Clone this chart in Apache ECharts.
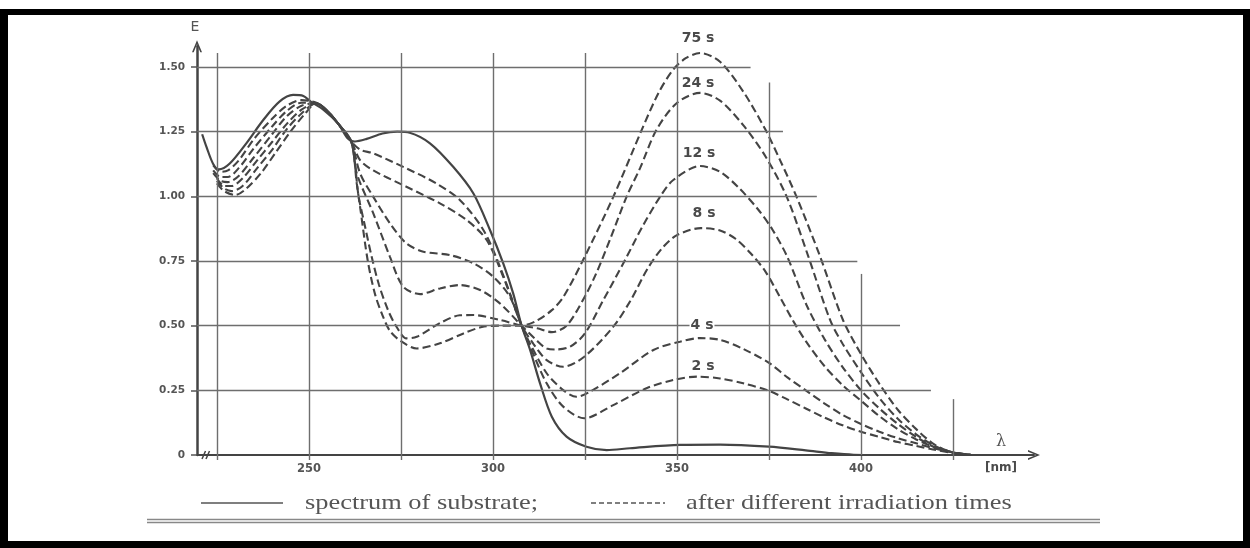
<!DOCTYPE html>
<html><head><meta charset="utf-8">
<script src="https://cdn.jsdelivr.net/npm/echarts@6/dist/echarts.min.js"></script>
<style>html,body{margin:0;padding:0;background:#fff}#c{width:1250px;height:548px}</style>
</head><body><div id="c"></div>
<script>
// ---- data ----
const xTicks = [225, 250, 275, 300, 325, 350, 375, 400, 425];
const xLabels = [250, 300, 350, 400];
const yTicks = [0, 0.25, 0.5, 0.75, 1.0, 1.25, 1.5];
const hGridLevels = [0.25, 0.5, 0.75, 1.0, 1.25, 1.5];
const hGridEnds = [419, 410.6, 399, 388, 378.8, 370];
const vGridTops = [1.554, 1.554, 1.554, 1.554, 1.554, 1.554, 1.44, 0.70, 0.216];
const timeLabels = ['2 s', '4 s', '8 s', '12 s', '24 s', '75 s'];

const substrate = [[221,1.24],[222.2,1.19],[224,1.125],[225.5,1.104],[228.5,1.127],[233,1.205],[237.6,1.295],[242,1.366],[245.7,1.392],[248.5,1.388],[250.5,1.366],[254,1.334],[258,1.28],[260.5,1.225],[262.5,1.212],[265.7,1.222],[270,1.243],[274,1.25],[277.4,1.246],[282.9,1.205],[289.2,1.114],[294.7,1.011],[299.2,0.87],[302.8,0.741],[305.5,0.625],[307.8,0.5],[310.1,0.406],[312.8,0.277],[316,0.148],[320,0.071],[325.4,0.032],[330.9,0.019],[337.2,0.026],[350.8,0.039],[361.7,0.04],[375,0.032],[385,0.018],[392,0.007],[398,0.001],[405,0]];

const s2 = [[224,1.12],[226,1.095],[228,1.10],[231,1.14],[235,1.22],[240,1.30],[244,1.35],[248,1.372],[252,1.362],[255,1.33],[258,1.28],[261.5,1.212],[264,1.18],[267.5,1.166],[276.5,1.108],[284.6,1.05],[291,0.986],[297.4,0.87],[301.9,0.728],[307.8,0.5],[310.1,0.419],[314.6,0.277],[319.1,0.187],[324.8,0.142],[332.7,0.193],[341.7,0.258],[349,0.29],[355.4,0.303],[361.7,0.296],[368,0.277],[375,0.248],[380,0.215],[385,0.18],[390,0.145],[395,0.115],[400,0.09],[405,0.07],[410,0.05],[415,0.035],[420,0.02],[425,0.008],[430,0]];

const s4 = [[224,1.10],[226,1.075],[228,1.075],[231,1.11],[235,1.185],[240,1.27],[244,1.33],[248,1.362],[252,1.36],[255,1.33],[258,1.28],[261.5,1.212],[263.9,1.14],[267.5,1.10],[276.5,1.037],[285.6,0.973],[292.9,0.908],[298.3,0.831],[302.8,0.689],[307.8,0.5],[310.1,0.43],[314.6,0.316],[319.1,0.251],[322.7,0.225],[326.4,0.245],[334.5,0.316],[343.6,0.406],[350.8,0.438],[356.3,0.452],[361.7,0.445],[368,0.41],[375,0.356],[380,0.30],[385,0.25],[390,0.20],[395,0.155],[400,0.12],[405,0.09],[410,0.065],[415,0.045],[420,0.025],[425,0.01],[430,0]];

const s8 = [[224,1.09],[226,1.06],[228,1.055],[231,1.08],[235,1.15],[240,1.24],[244,1.31],[248,1.35],[252,1.36],[255,1.33],[258,1.28],[261.5,1.212],[263.9,1.089],[267.5,0.998],[272,0.896],[276.5,0.818],[281.1,0.786],[288.3,0.773],[294.7,0.741],[300.1,0.689],[304.6,0.612],[307.8,0.5],[311,0.43],[314.6,0.367],[319.1,0.341],[324.8,0.38],[332.7,0.496],[337.5,0.6],[342,0.72],[346,0.8],[350,0.85],[356.5,0.877],[361.7,0.868],[366,0.835],[370,0.78],[374,0.71],[378,0.61],[381.5,0.52],[385,0.44],[390,0.345],[395,0.27],[400,0.21],[405,0.15],[410,0.10],[415,0.06],[420,0.03],[425,0.01],[430,0]];

const s12 = [[225,1.07],[227,1.04],[229,1.04],[232,1.07],[236,1.14],[240,1.21],[244,1.28],[248,1.335],[252,1.36],[255,1.33],[258,1.28],[261.5,1.212],[263,1.089],[267.5,0.934],[272,0.767],[275.6,0.651],[280.2,0.622],[285.6,0.644],[291,0.657],[296.5,0.638],[301.9,0.586],[307.8,0.5],[311.8,0.444],[314.6,0.412],[317.3,0.408],[321,0.419],[325,0.47],[330,0.599],[335.9,0.754],[340.5,0.88],[345.4,0.998],[349,1.063],[356.3,1.117],[361.7,1.095],[367,1.03],[372,0.95],[376,0.87],[380,0.765],[385.2,0.58],[390,0.45],[395,0.34],[400,0.25],[405,0.18],[410,0.12],[415,0.07],[420,0.03],[425,0.01],[430,0]];

const s24 = [[225,1.06],[227,1.03],[229,1.02],[232,1.04],[236,1.11],[240,1.18],[244,1.26],[248,1.32],[252,1.36],[255,1.33],[258,1.28],[261.5,1.212],[263.5,1.0],[265,0.9],[267,0.77],[269,0.66],[271.5,0.56],[273.8,0.496],[276.5,0.451],[279.3,0.457],[285.6,0.51],[291,0.54],[294.7,0.541],[301.9,0.522],[307.8,0.5],[312,0.49],[316,0.475],[320,0.5],[324.5,0.6],[328,0.70],[332,0.84],[336.3,0.998],[340,1.11],[344.4,1.256],[349.9,1.36],[356.3,1.40],[361.7,1.37],[368,1.275],[374.1,1.153],[379.8,0.999],[385.7,0.767],[391.6,0.522],[395,0.43],[400,0.32],[405,0.22],[410,0.14],[415,0.08],[420,0.035],[425,0.01],[430,0]];

const s75 = [[225,1.05],[227,1.02],[230,1.005],[233,1.03],[237,1.09],[241,1.17],[245,1.25],[249,1.32],[252,1.36],[255,1.33],[258,1.28],[261.5,1.212],[263,1.05],[264,0.95],[266,0.75],[268,0.62],[270,0.54],[272,0.48],[275,0.44],[279.3,0.412],[285.6,0.432],[292,0.47],[297,0.495],[302,0.50],[307.8,0.5],[312,0.52],[316,0.56],[319.1,0.61],[324.5,0.754],[332.7,0.998],[340.4,1.256],[345,1.40],[349,1.49],[352.5,1.535],[356.3,1.554],[361.7,1.52],[368,1.405],[374.1,1.256],[378,1.14],[382.5,0.998],[388.9,0.767],[395.1,0.522],[400,0.39],[405,0.275],[410,0.175],[415,0.10],[420,0.04],[425,0.01],[430,0]];

const dashedSeries = [s2, s4, s8, s12, s24, s75];

// ---- chart ----
const X_MIN = 219.6, X_MAX = 447, Y_MAX = 1.58;
const INK = '#444444';
const GRIDC = '#6e6e6e';

const gridLines = [];
hGridLevels.forEach((v, i) => gridLines.push([{coord: [X_MIN, v]}, {coord: [hGridEnds[i], v]}]));
xTicks.forEach((t, i) => gridLines.push([{coord: [t, 0]}, {coord: [t, vGridTops[i]]}]));

const chevron = 'path://M0,12 L5,0 L10,12 L8.3,12 L5,3.9 L1.7,12 Z';

const series = [{
  type: 'line', z: 1, data: [[X_MIN, 0]], showSymbol: false, silent: true,
  lineStyle: {width: 0},
  markLine: {
    silent: true, symbol: ['none', 'none'], animation: false,
    label: {show: false}, emphasis: {disabled: true},
    lineStyle: {color: GRIDC, width: 1.4, type: 'solid'},
    data: gridLines
  }
}, {
  type: 'line', name: 'substrate', z: 3, data: substrate, showSymbol: false, smooth: 0.3,
  silent: true, lineStyle: {color: INK, width: 2.2, type: 'solid'}
}];
dashedSeries.forEach((d, i) => series.push({
  type: 'line', name: timeLabels[i], z: 3, data: d, showSymbol: false, smooth: 0.3,
  silent: true, lineStyle: {color: INK, width: 2.1, type: [8, 4]}
}));

const labelFont = {fontFamily: 'DejaVu Sans', fontWeight: 'bold', fontSize: 14, fill: '#4a4a4a'};
const curveLabelPos = [[703, 366], [702, 325], [704, 213], [699, 153], [698, 83], [698, 38]];
const graphics = [];
timeLabels.forEach((t, i) => graphics.push({
  type: 'text', x: curveLabelPos[i][0], y: curveLabelPos[i][1], z: 10,
  style: Object.assign({text: t, textAlign: 'center', textVerticalAlign: 'middle', backgroundColor: '#fff', padding: [0, 1]}, labelFont)
}));
graphics.push(
  {type: 'rect', shape: {x: 0, y: 9, width: 1250, height: 6}, style: {fill: '#000'}},
  {type: 'rect', shape: {x: 0, y: 9, width: 8, height: 539}, style: {fill: '#000'}},
  {type: 'rect', shape: {x: 1243, y: 9, width: 7, height: 539}, style: {fill: '#000'}},
  {type: 'rect', shape: {x: 0, y: 541, width: 1250, height: 7}, style: {fill: '#000'}},
  {type: 'text', x: 195, y: 27, style: {text: 'E', textAlign: 'center', textVerticalAlign: 'middle', fontFamily: 'DejaVu Sans', fontSize: 14, fill: '#555'}},
  {type: 'text', x: 1001, y: 442, style: {text: 'λ', textAlign: 'center', textVerticalAlign: 'middle', fontFamily: 'DejaVu Serif', fontSize: 16, fill: '#555'}},
  {type: 'text', x: 1001, y: 468, style: {text: '[nm]', textAlign: 'center', textVerticalAlign: 'middle', fontFamily: 'DejaVu Sans', fontWeight: 'bold', fontSize: 12, fill: '#4a4a4a'}},
  {type: 'line', shape: {x1: 202, y1: 459, x2: 205.5, y2: 451}, style: {stroke: INK, lineWidth: 1.5}},
  {type: 'line', shape: {x1: 206, y1: 459, x2: 209.5, y2: 451}, style: {stroke: INK, lineWidth: 1.5}},
  {type: 'line', shape: {x1: 201, y1: 503, x2: 283, y2: 503}, style: {stroke: '#555', lineWidth: 1.5}},
  {type: 'text', x: 305, y: 503, scaleX: 1.2, style: {text: 'spectrum of substrate;', textAlign: 'left', textVerticalAlign: 'middle', fontFamily: 'Liberation Serif', fontSize: 22, fill: '#555'}},
  {type: 'line', shape: {x1: 591, y1: 503, x2: 665, y2: 503}, style: {stroke: '#555', lineWidth: 1.5, lineDash: [5, 3]}},
  {type: 'text', x: 686, y: 503, scaleX: 1.2, style: {text: 'after different irradiation times', textAlign: 'left', textVerticalAlign: 'middle', fontFamily: 'Liberation Serif', fontSize: 22, fill: '#555'}},
  {type: 'line', shape: {x1: 147, y1: 519.5, x2: 1100, y2: 519.5}, style: {stroke: '#888', lineWidth: 1.5}},
  {type: 'line', shape: {x1: 147, y1: 522.5, x2: 1100, y2: 522.5}, style: {stroke: '#888', lineWidth: 1.5}}
);

const chart = echarts.init(document.getElementById('c'), null, {renderer: 'canvas'});
chart.setOption({
  animation: false,
  backgroundColor: '#fff',
  grid: {left: 197, right: 216, top: 46.3, bottom: 93, containLabel: false},
  xAxis: {
    type: 'value', min: X_MIN, max: X_MAX,
    splitLine: {show: false},
    axisLine: {show: true, onZero: false, symbol: ['none', chevron], symbolSize: [10, 13], lineStyle: {color: INK, width: 2}},
    axisTick: {show: true, customValues: xTicks, length: 5, lineStyle: {color: GRIDC, width: 1.4}},
    axisLabel: {show: true, customValues: xLabels, margin: 8, fontFamily: 'DejaVu Sans', fontWeight: 'bold', fontSize: 11.5, color: '#555'}
  },
  yAxis: {
    type: 'value', min: 0, max: Y_MAX,
    splitLine: {show: false},
    axisLine: {show: true, onZero: false, symbol: ['none', chevron], symbolSize: [10, 13], lineStyle: {color: INK, width: 2.5}},
    axisTick: {show: true, customValues: yTicks, length: 6, lineStyle: {color: '#555', width: 1.5}},
    axisLabel: {show: true, customValues: yTicks, margin: 12, fontFamily: 'DejaVu Sans', fontWeight: 'bold', fontSize: 10.5, color: '#555',
      formatter: v => v === 0 ? '0' : v.toFixed(2)}
  },
  series: series,
  graphic: graphics
});
</script></body></html>
